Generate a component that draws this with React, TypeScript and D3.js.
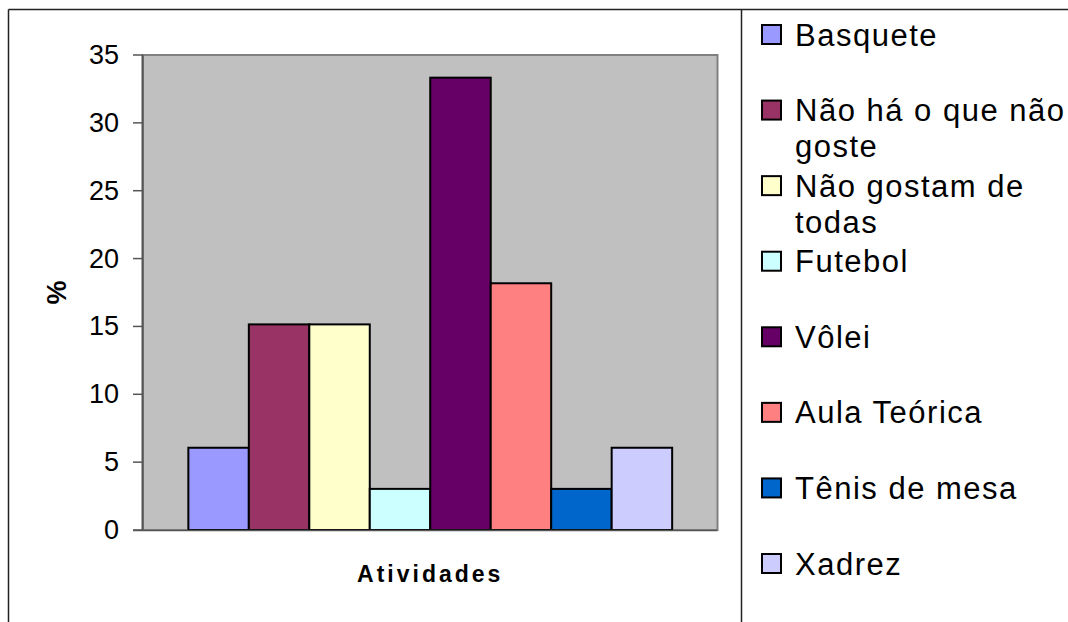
import React, { useEffect, useRef } from 'react';
import * as d3 from 'd3';

// activity labels, % values and bar colours, in legend order
const activities = [
  'Basquete',
  'Não há o que não goste',
  'Não gostam de todas',
  'Futebol',
  'Vôlei',
  'Aula Teórica',
  'Tênis de mesa',
  'Xadrez',
];
const percents = [6.06, 15.15, 15.15, 3.03, 33.33, 18.18, 3.03, 6.06];
const barColors = ['#9999FF', '#993366', '#FFFFCC', '#CCFFFF', '#660066', '#FF8080', '#0066CC', '#CCCCFF'];
// legend text split into lines the way the original wraps them
const legendLines = [
  ['Basquete'],
  ['Não há o que não', 'goste'],
  ['Não gostam de', 'todas'],
  ['Futebol'],
  ['Vôlei'],
  ['Aula Teórica'],
  ['Tênis de mesa'],
  ['Xadrez'],
];
const yTicks = [0, 5, 10, 15, 20, 25, 30, 35];

const W = 1068;
const H = 622;
const FONT = '"Liberation Sans", Arial, sans-serif';

const App: React.FC = () => {
  const svgRef = useRef<SVGSVGElement | null>(null);

  useEffect(() => {
    const svg = d3.select(svgRef.current);
    svg.selectAll('*').remove();

    const plot = { left: 143, right: 717.5, top: 55, bottom: 530 };

    // chart frame (right/bottom edges fall outside the picture)
    svg.append('line').attr('x1', 8.5).attr('x2', W).attr('y1', 9.5).attr('y2', 9.5).attr('stroke', '#222').attr('stroke-width', 1.5);
    svg.append('line').attr('x1', 8.5).attr('x2', 8.5).attr('y1', 9.5).attr('y2', H).attr('stroke', '#222').attr('stroke-width', 1.5);
    svg.append('line').attr('x1', 741.5).attr('x2', 741.5).attr('y1', 9.5).attr('y2', H).attr('stroke', '#222').attr('stroke-width', 1.5);

    const y = d3.scaleLinear().domain([0, 35]).range([plot.bottom, plot.top]);
    const x = d3
      .scaleBand<string>()
      .domain(activities)
      .range([plot.left, plot.right])
      .paddingInner(0)
      .paddingOuter(0.75);

    // plot area
    svg
      .append('rect')
      .attr('x', plot.left)
      .attr('y', plot.top)
      .attr('width', plot.right - plot.left)
      .attr('height', plot.bottom - plot.top)
      .attr('fill', '#C0C0C0')
      .attr('stroke', '#808080')
      .attr('stroke-width', 2);

    // y axis
    const axis = svg.append('g');
    axis
      .append('line')
      .attr('x1', plot.left - 0.5)
      .attr('x2', plot.left - 0.5)
      .attr('y1', plot.top)
      .attr('y2', plot.bottom)
      .attr('stroke', '#555')
      .attr('stroke-width', 2);
    const tick = axis.selectAll('g.tick').data(yTicks).enter().append('g').attr('class', 'tick');
    tick
      .append('line')
      .attr('x1', 133)
      .attr('x2', plot.left)
      .attr('y1', d => y(d))
      .attr('y2', d => y(d))
      .attr('stroke', '#555')
      .attr('stroke-width', 1.5);
    tick
      .append('text')
      .attr('x', 119)
      .attr('y', d => y(d) + 9)
      .attr('text-anchor', 'end')
      .attr('font-family', FONT)
      .attr('font-size', 27)
      .attr('fill', '#000')
      .text(d => d);

    // bars
    svg
      .append('g')
      .selectAll('rect')
      .data(percents)
      .enter()
      .append('rect')
      .attr('x', (_, i) => x(activities[i]) as number)
      .attr('y', d => y(d))
      .attr('width', x.bandwidth())
      .attr('height', d => plot.bottom - y(d))
      .attr('fill', (_, i) => barColors[i])
      .attr('stroke', '#000')
      .attr('stroke-width', 2);

    // x axis baseline
    svg
      .append('line')
      .attr('x1', plot.left - 10)
      .attr('x2', plot.right)
      .attr('y1', plot.bottom + 0.5)
      .attr('y2', plot.bottom + 0.5)
      .attr('stroke', '#555')
      .attr('stroke-width', 1.5);

    // axis titles
    svg
      .append('text')
      .attr('x', (plot.left + plot.right) / 2)
      .attr('y', 582)
      .attr('text-anchor', 'middle')
      .attr('font-family', FONT)
      .attr('font-weight', 'bold')
      .attr('font-size', 23)
      .attr('letter-spacing', 3)
      .text('Atividades');
    svg
      .append('text')
      .attr('transform', `translate(66, ${(plot.top + plot.bottom) / 2}) rotate(-90)`)
      .attr('text-anchor', 'middle')
      .attr('font-family', FONT)
      .attr('font-weight', 'bold')
      .attr('font-size', 27)
      .text('%');

    // legend
    const legendY = d3.scalePoint<string>().domain(activities).range([34.5, 563.5]);
    const item = svg
      .append('g')
      .selectAll('g')
      .data(activities)
      .enter()
      .append('g')
      .attr('transform', d => `translate(0, ${legendY(d)})`);
    item
      .append('rect')
      .attr('x', 762)
      .attr('y', -9.5)
      .attr('width', 19)
      .attr('height', 19)
      .attr('fill', (_, i) => barColors[i])
      .attr('stroke', '#000')
      .attr('stroke-width', 2);
    item
      .append('text')
      .attr('font-family', FONT)
      .attr('font-size', 31)
      .attr('letter-spacing', 1.5)
      .attr('fill', '#000')
      .selectAll('tspan')
      .data((_, i) => legendLines[i])
      .enter()
      .append('tspan')
      .attr('x', 795)
      .attr('y', (_, j) => 11 + j * 36)
      .text(d => d);
  }, []);

  return (
    <div style={{ position: 'absolute', left: 0, top: 0 }}>
      <svg ref={svgRef} width={W} height={H} style={{ display: 'block', background: '#fff' }}></svg>
    </div>
  );
};

export default App;
